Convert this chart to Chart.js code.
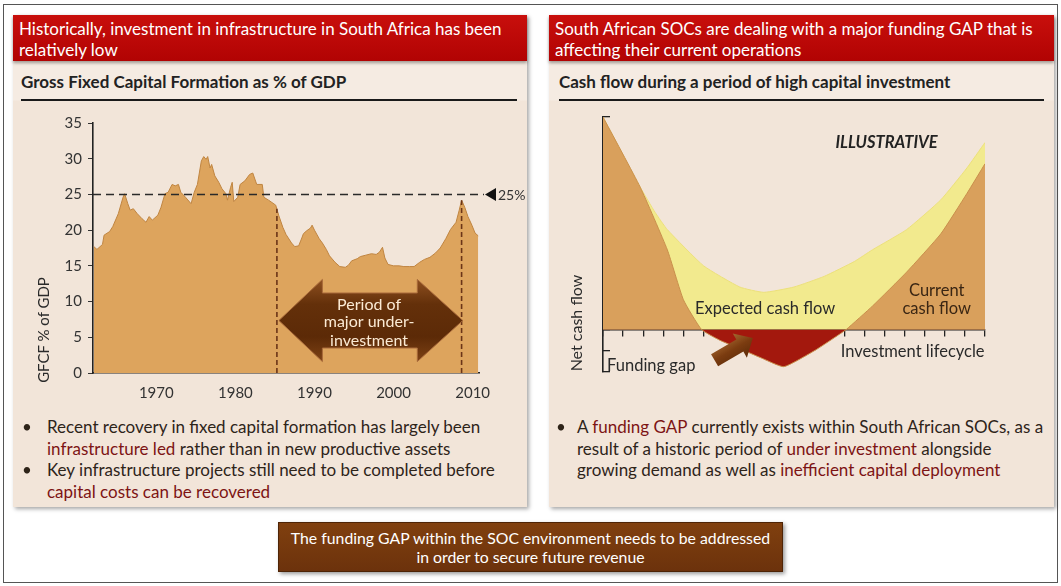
<!DOCTYPE html>
<html>
<head>
<meta charset="utf-8">
<title>Infrastructure investment and the SOC funding gap</title>
<script src="https://cdn.jsdelivr.net/npm/chart.js@4.4.1/dist/chart.umd.min.js"></script>
<style>
  html, body { margin: 0; padding: 0; }
  body { width: 1061px; height: 586px; background: #fff; position: relative; overflow: hidden;
         font-family: Lato, "Open Sans", "DejaVu Sans", sans-serif; color: #2e2419; }
  .abs { position: absolute; }
  .frame { left: 3px; top: 4px; width: 1055px; height: 579px; border: 1px solid #555; box-sizing: border-box; }
  .panel { top: 15px; height: 492px; background: linear-gradient(#F5EBE2 0, #F5EBE2 85px, #F2E5D9 86px, #F2E5D9 100%);
           box-shadow: 2px 2px 4px rgba(0,0,0,.35); }
  .hdr { top: 15px; height: 46px; background: linear-gradient(#C80F0C, #B10303); color: #fff; font-size: 17px;
         line-height: 21px; padding: 3px 0 0 6px; box-sizing: border-box; box-shadow: 0 2px 3px rgba(0,0,0,.35); white-space: nowrap; }
  .sub { top: 72px; font-size: 17px; font-weight: 700; color: #222; line-height: 20px; white-space: nowrap; }
  .rule { top: 99px; height: 0; border-top: 2px solid #1a1a1a; }
  .bullets { font-size: 17px; line-height: 21.5px; white-space: nowrap; }
  .dot { position: absolute; }
  .hl { color: #7d1414; }
  .ytitle { font-size: 15px; color: #2a2a2a; white-space: nowrap; transform: translate(-50%, -50%) rotate(-90deg); }
  .note { left: 278px; top: 522px; width: 505px; height: 50px; box-sizing: border-box;
          background: linear-gradient(#80400F, #6C320C); border: 1px solid #4e2406; color: #fff; text-align: center;
          font-size: 15.8px; line-height: 19px; padding-top: 5px; box-shadow: 2px 2px 4px rgba(0,0,0,.4); white-space: nowrap; }
  canvas { position: absolute; }
</style>
</head>
<body>
<div class="abs frame"></div>

<div class="abs panel" style="left:13px;width:514px;"></div>
<div class="abs panel" style="left:549px;width:505px;"></div>

<div class="abs hdr" style="left:13px;width:514px;">Historically, investment in infrastructure in South Africa has been<br>relatively low</div>
<div class="abs hdr" style="left:549px;width:505px;">South African SOCs are dealing with a major funding GAP that is<br>affecting their current operations</div>

<div class="abs sub" style="left:21px;">Gross Fixed Capital Formation as % of GDP</div>
<div class="abs sub" style="left:559px;">Cash flow during a period of high capital investment</div>
<div class="abs rule" style="left:21px;width:496px;"></div>
<div class="abs rule" style="left:559px;width:485px;"></div>

<canvas id="gfcf" width="515" height="300" style="left:12px;top:108px;"></canvas>
<canvas id="cashflow" width="504" height="300" style="left:549px;top:104px;"></canvas>

<div class="abs ytitle" style="left:43px;top:330px;">GFCF % of GDP</div>
<div class="abs ytitle" style="left:575px;top:323px;font-size:16px;">Net cash flow</div>

<div class="abs bullets" style="left:22px;top:416px;width:500px;">
  <span class="dot" style="left:0;top:0;">•</span>
  <span class="dot" style="left:0;top:43px;">•</span>
  <div style="margin-left:25px;">Recent recovery in fixed capital formation has largely been<br><span class="hl">infrastructure led</span> rather than in new productive assets<br>Key infrastructure projects still need to be completed before<br><span class="hl">capital costs can be recovered</span></div>
</div>

<div class="abs bullets" style="left:556px;top:416px;width:495px;">
  <span class="dot" style="left:0;top:0;">•</span>
  <div style="margin-left:21px;">A <span class="hl">funding GAP</span> currently exists within South African SOCs, as a<br>result of a historic period of <span class="hl">under investment</span> alongside<br>growing demand as well as <span class="hl">inefficient capital deployment</span></div>
</div>

<div class="abs note">The funding GAP within the SOC environment needs to be addressed<br>in order to secure future revenue</div>

<script>
// ---- Gross fixed capital formation, % of GDP ----
const gfcfYears = [
  1962.1, 1962.5, 1963.2, 1963.4, 1964.1, 1964.5, 1965.2, 1965.8, 1966.0, 1966.4,
  1966.7, 1967.1, 1967.6, 1968.2, 1968.7, 1969.1, 1969.5, 1970.2, 1970.6, 1971.1,
  1971.5, 1972.0, 1972.4, 1972.8, 1973.1, 1973.7, 1974.4, 1974.8, 1975.2, 1975.7,
  1976.0, 1976.3, 1976.5, 1976.8, 1977.0, 1977.4, 1977.9, 1978.3, 1978.8, 1979.0,
  1979.4, 1979.6, 1979.8, 1980.3, 1980.6, 1981.2, 1981.8, 1982.2, 1982.7, 1983.4,
  1983.6, 1984.2, 1985.1, 1985.5, 1986.0, 1986.4, 1987.1, 1987.5, 1988.0, 1988.4,
  1988.6, 1989.0, 1989.5, 1989.7, 1990.0, 1990.6, 1991.0, 1991.5, 1991.9, 1992.6,
  1993.2, 1993.9, 1994.3, 1994.7, 1995.4, 1995.8, 1996.5, 1997.2, 1997.8, 1998.2,
  1998.6, 1998.9, 1999.3, 2000.0, 2000.7, 2001.3, 2002.0, 2002.6, 2003.3, 2003.9,
  2004.6, 2005.3, 2005.9, 2006.6, 2007.2, 2007.9, 2008.3, 2008.6, 2009.0, 2009.4,
  2009.9, 2010.3, 2010.7
];
const gfcfShare = [
  17.7, 17.3, 18.0, 19.3, 19.8, 20.5, 22.3, 24.6, 25.1, 23.7,
  22.8, 23.0, 22.3, 21.6, 21.1, 21.9, 21.4, 22.1, 23.2, 25.1,
  25.3, 26.4, 26.2, 26.4, 25.3, 24.6, 23.7, 25.3, 26.4, 29.7,
  30.3, 29.9, 30.3, 28.7, 29.2, 27.6, 26.7, 25.8, 25.1, 24.2,
  26.0, 26.7, 24.0, 24.6, 26.4, 26.9, 27.8, 28.0, 26.4, 26.4,
  24.6, 24.2, 23.5, 22.0, 20.4, 19.4, 18.2, 17.7, 17.8, 18.9,
  19.5, 19.9, 20.3, 20.7, 20.0, 18.8, 18.2, 17.3, 16.4, 15.5,
  14.9, 14.8, 15.1, 15.7, 16.0, 16.3, 16.5, 16.7, 16.6, 16.9,
  17.6, 16.1, 15.2, 15.0, 15.0, 14.9, 14.9, 14.9, 15.5, 15.9,
  16.2, 16.8, 17.5, 18.8, 20.1, 21.1, 22.8, 24.2, 23.2, 21.9,
  20.7, 19.6, 19.2
];
const yearTicks = [1970, 1980, 1990, 2000, 2010];
const shareTicks = [0, 5, 10, 15, 20, 25, 30, 35];
const benchmarkShare = 25;                       // long-run reference level
const underInvestYears = [1985.25, 2008.6];      // start / end of the under-investment period
const underInvestShare = [23.0, 24.2];           // series level at those two dates
const periodLines = ['Period of', 'major under-', 'investment'];

// ---- Illustrative cash-flow profile over an investment lifecycle ----
const currentStage = [0, 1.85, 3.2, 4.0, 4.9, 5.8, 6.8, 7.9, 9.0, 10.6, 11.8, 12.1, 13.4, 15.1, 16.8, 18.1, 19];
const currentCash  = [10, 6.7, 3.75, 1.4, 0, -0.5, -0.9, -1.35, -1.75, -0.95, -0.2, 0, 1.1, 2.7, 4.5, 6.4, 7.8];
const expectedStage = [0, 1.85, 2.6, 3.2, 5.0, 6.8, 8.0, 9.5, 11.0, 12.5, 13.4, 15.1, 16.8, 18.1, 19];
const expectedCash  = [10, 6.7, 5.5, 4.7, 3.0, 2.0, 1.75, 2.0, 2.5, 3.2, 3.75, 4.7, 6.1, 7.6, 8.8];
const stageTicks = Array.from({length: 20}, (_, i) => i);
const cashTicks = Array.from({length: 13}, (_, i) => i - 2);

const FONT = 'Lato, "Open Sans", sans-serif';
const pts = (xs, ys) => xs.map((x, i) => ({x, y: ys[i]}));

// Dashed 25% benchmark, its pointer label, and the double-headed period arrow
const gfcfAnnotations = {
  id: 'gfcfAnnotations',
  afterDatasetsDraw(chart) {
    const {ctx, scales: {x, y}} = chart;
    const yb = y.getPixelForValue(benchmarkShare);
    const xEnd = x.right + 5;
    ctx.save();
    ctx.strokeStyle = '#2a2a2a';
    ctx.lineWidth = 1.6;
    ctx.setLineDash([8, 5]);
    ctx.beginPath();
    ctx.moveTo(x.left, yb);
    ctx.lineTo(xEnd, yb);
    ctx.stroke();
    ctx.setLineDash([]);
    ctx.fillStyle = '#111';
    ctx.beginPath();
    ctx.moveTo(xEnd + 1, yb);
    ctx.lineTo(xEnd + 12, yb - 6.5);
    ctx.lineTo(xEnd + 12, yb + 6.5);
    ctx.closePath();
    ctx.fill();
    ctx.font = '14px ' + FONT;
    ctx.fillStyle = '#333';
    ctx.textBaseline = 'middle';
    ctx.textAlign = 'left';
    ctx.fillText(benchmarkShare + '%', xEnd + 14, yb + 1);

    // double arrow spanning the under-investment period
    const xl = x.getPixelForValue(1985.5), xr = x.getPixelForValue(2008.75);
    const hl = x.getPixelForValue(1991.0), hr = x.getPixelForValue(2003.0);
    const yTop = y.getPixelForValue(13.1), yBot = y.getPixelForValue(1.6);
    const sTop = y.getPixelForValue(11.2), sBot = y.getPixelForValue(3.5);
    const yc = (yTop + yBot) / 2;
    const g = ctx.createLinearGradient(0, yTop, 0, yBot);
    g.addColorStop(0, '#8e5020');
    g.addColorStop(0.3, '#64300a');
    g.addColorStop(0.7, '#5c2a07');
    g.addColorStop(1, '#7d4215');
    ctx.fillStyle = g;
    ctx.strokeStyle = '#a8693a';
    ctx.lineWidth = 1;
    ctx.beginPath();
    ctx.moveTo(xl, yc);
    ctx.lineTo(hl, yTop); ctx.lineTo(hl, sTop); ctx.lineTo(hr, sTop); ctx.lineTo(hr, yTop);
    ctx.lineTo(xr, yc);
    ctx.lineTo(hr, yBot); ctx.lineTo(hr, sBot); ctx.lineTo(hl, sBot); ctx.lineTo(hl, yBot);
    ctx.closePath();
    ctx.fill();
    ctx.stroke();
    ctx.font = '16px ' + FONT;
    ctx.fillStyle = '#fbead4';
    ctx.textAlign = 'center';
    const tx = x.getPixelForValue(1996.9);
    [9.6, 7.1, 4.5].forEach((v, i) => ctx.fillText(periodLines[i], tx, y.getPixelForValue(v)));
    ctx.restore();
  }
};

new Chart(document.getElementById('gfcf'), {
  type: 'line',
  data: {
    datasets: [
      { label: 'Start of period', data: pts([underInvestYears[0], underInvestYears[0]], [0, underInvestShare[0]]),
        borderColor: '#6b3518', borderWidth: 1.6, borderDash: [5, 3], pointRadius: 0, fill: false },
      { label: 'End of period', data: pts([underInvestYears[1], underInvestYears[1]], [0, underInvestShare[1]]),
        borderColor: '#6b3518', borderWidth: 1.6, borderDash: [5, 3], pointRadius: 0, fill: false },
      { label: 'GFCF % of GDP', data: pts(gfcfYears, gfcfShare), borderColor: '#bf8440', borderWidth: 1,
        backgroundColor: '#DDA45D', fill: 'origin', pointRadius: 0, tension: 0 }
    ]
  },
  options: {
    responsive: false, animation: false,
    layout: { padding: { left: 0, top: 10, right: 48, bottom: 0 } },
    plugins: { legend: { display: false }, tooltip: { enabled: false } },
    scales: {
      x: {
        type: 'linear', min: 1962, max: 2010.8,
        afterBuildTicks: s => { s.ticks = yearTicks.map(v => ({value: v})); },
        afterFit: s => { s.height = 35; },
        grid: { drawOnChartArea: false, drawTicks: false },
        border: { color: '#222', width: 1.6 },
        ticks: { font: { family: FONT, size: 15 }, color: '#333', padding: 11, maxRotation: 0,
                 callback: v => String(v) }
      },
      y: {
        min: 0, max: 35,
        afterBuildTicks: s => { s.ticks = shareTicks.map(v => ({value: v})); },
        afterFit: s => { s.width = 81; },
        grid: { drawOnChartArea: false, tickLength: 5, color: '#333' },
        border: { color: '#222', width: 1.6 },
        ticks: { font: { family: FONT, size: 15 }, color: '#333', padding: 6, callback: v => String(v) }
      }
    }
  },
  plugins: [gfcfAnnotations]
});

// Labels and the funding-gap pointer on the cash-flow chart
const cashAnnotations = {
  id: 'cashAnnotations',
  afterDatasetsDraw(chart) {
    const {ctx, scales: {x, y}} = chart;
    ctx.save();
    // pointer arrow into the funding gap
    const t0x = x.getPixelForValue(5.55), t0y = y.getPixelForValue(-1.45);
    const t1x = x.getPixelForValue(7.45), t1y = y.getPixelForValue(-0.4);
    const ang = Math.atan2(t1y - t0y, t1x - t0x);
    const len = Math.hypot(t1x - t0x, t1y - t0y);
    ctx.translate(t0x, t0y);
    ctx.rotate(ang);
    const g = ctx.createLinearGradient(0, -14, 0, 14);
    g.addColorStop(0, '#a5672f');
    g.addColorStop(0.5, '#7b3c10');
    g.addColorStop(1, '#5e2b08');
    ctx.fillStyle = g;
    ctx.beginPath();
    ctx.moveTo(0, -7); ctx.lineTo(len - 15, -7); ctx.lineTo(len - 15, -14);
    ctx.lineTo(len, 0);
    ctx.lineTo(len - 15, 14); ctx.lineTo(len - 15, 7); ctx.lineTo(0, 7);
    ctx.closePath();
    ctx.fill();
    ctx.restore();

    ctx.save();
    const put = (txt, sx, cy, font, color, align) => {
      ctx.font = font; ctx.fillStyle = color; ctx.textAlign = align || 'center'; ctx.textBaseline = 'middle';
      ctx.fillText(txt, x.getPixelForValue(sx), y.getPixelForValue(cy));
    };
    put('ILLUSTRATIVE', 14.1, 8.8, 'italic 700 16.5px ' + FONT, '#222');
    put('Expected cash flow', 8.06, 1.0, '16.5px ' + FONT, '#2a2a2a');
    put('Current', 16.6, 1.85, '16.5px ' + FONT, '#3a2614');
    put('cash flow', 16.6, 1.0, '16.5px ' + FONT, '#3a2614');
    put('Investment lifecycle', 15.4, -1.03, '16.5px ' + FONT, '#2a2a2a');
    put('Funding gap', 0.2, -1.7, '16.5px ' + FONT, '#2a2a2a', 'left');
    ctx.restore();
  }
};

new Chart(document.getElementById('cashflow'), {
  type: 'line',
  data: {
    datasets: [
      { label: 'Current cash flow', data: pts(currentStage, currentCash), borderColor: '#c98f4c', borderWidth: 1,
        fill: { target: 'origin', above: '#D9A05C', below: '#A3180D' }, pointRadius: 0, tension: 0.15 },
      { label: 'Expected cash flow', data: pts(expectedStage, expectedCash), borderColor: '#ece07a', borderWidth: 1,
        backgroundColor: '#F2EA8E', fill: 'origin', pointRadius: 0, tension: 0.15 }
    ]
  },
  options: {
    responsive: false, animation: false,
    layout: { padding: { left: 0, top: 13, right: 68, bottom: 32 } },
    plugins: { legend: { display: false }, tooltip: { enabled: false } },
    scales: {
      x: {
        type: 'linear', min: 0, max: 19, position: { y: 0 },
        afterBuildTicks: s => { s.ticks = stageTicks.map(v => ({value: v})); },
        grid: { drawOnChartArea: false, tickLength: 6, color: '#222', lineWidth: 1.3 },
        border: { color: '#222', width: 1.6 },
        ticks: { display: false }
      },
      y: {
        min: -2, max: 10,
        afterBuildTicks: s => { s.ticks = cashTicks.map(v => ({value: v})); },
        afterFit: s => { s.width = 54; },
        grid: { drawOnChartArea: false, tickLength: -7, color: '#222', lineWidth: 1.3 },
        border: { color: '#222', width: 1.6 },
        ticks: { display: false }
      }
    }
  },
  plugins: [cashAnnotations]
});
</script>
</body>
</html>
